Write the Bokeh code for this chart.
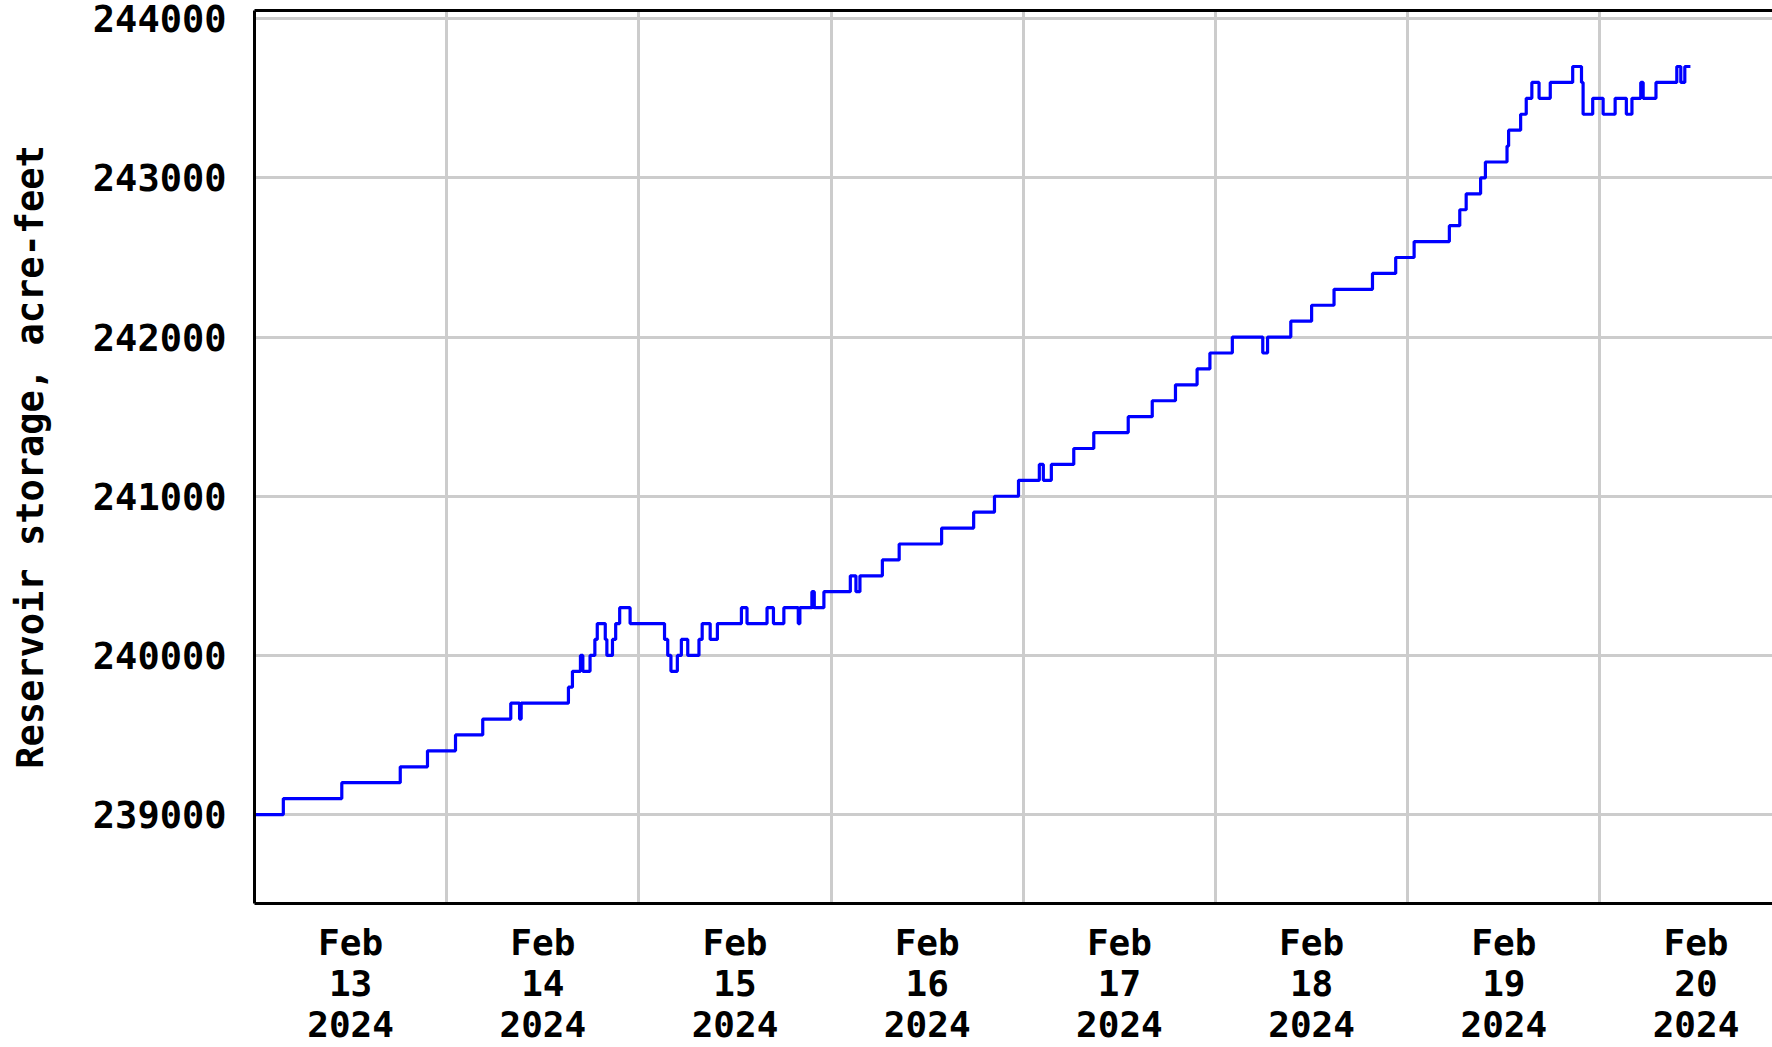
from bokeh.plotting import figure
from bokeh.models import Range1d, FixedTicker, LinearAxis, NumeralTickFormatter
from bokeh.embed import file_html
from bokeh.resources import INLINE

# ---- data: hours since 2024-02-13 00:00 at which the reading changes, and storage (acre-feet)
START = "2024-02-13 00:00"
hours = [0.0, 3.6, 10.9, 18.2, 21.6, 25.1, 28.5, 32.0, 33.1, 33.3,
         39.2, 39.7, 40.7, 41.0, 41.9, 42.5, 42.8, 43.8, 44.0, 44.7,
         45.1, 45.6, 46.9, 51.2, 51.6, 52.0, 52.8, 53.3, 54.1, 55.5,
         55.9, 56.9, 57.8, 60.8, 61.5, 64.0, 64.8, 66.1, 67.9, 68.1,
         69.6, 69.9, 71.1, 74.4, 75.1, 75.6, 78.4, 80.5, 85.8, 89.8,
         92.4, 95.4, 98.0, 98.5, 99.5, 102.3, 104.8, 109.1, 112.1, 115.0,
         117.7, 119.3, 122.1, 125.9, 126.5, 129.4, 132.0, 134.8, 139.6, 142.5,
         144.8, 149.2, 150.5, 151.3, 153.1, 153.7, 156.4, 156.6, 158.1, 158.8,
         159.5, 160.4, 161.8, 164.6, 165.7, 165.9, 167.1, 168.4, 169.9, 171.3,
         172.0, 173.1, 173.4, 175.0, 177.6, 178.1, 178.6, 179.3]
storage = [239000, 239100, 239200, 239300, 239400, 239500, 239600, 239700, 239600, 239700,
           239800, 239900, 240000, 239900, 240000, 240100, 240200, 240100, 240000, 240100,
           240200, 240300, 240200, 240100, 240000, 239900, 240000, 240100, 240000, 240100,
           240200, 240100, 240200, 240300, 240200, 240300, 240200, 240300, 240200, 240300,
           240400, 240300, 240400, 240500, 240400, 240500, 240600, 240700, 240800, 240900,
           241000, 241100, 241200, 241100, 241200, 241300, 241400, 241500, 241600, 241700,
           241800, 241900, 242000, 241900, 242000, 242100, 242200, 242300, 242400, 242500,
           242600, 242700, 242800, 242900, 243000, 243100, 243200, 243300, 243400, 243500,
           243600, 243500, 243600, 243700, 243600, 243400, 243500, 243400, 243500, 243400,
           243500, 243600, 243500, 243600, 243700, 243600, 243700, 243700]

month = "Feb"
days = [13, 14, 15, 16, 17, 18, 19, 20]
year = 2024
y_ticks = [239000, 240000, 241000, 242000, 243000, 244000]
y_title = "Reservoir storage, acre-feet"

FONT = "DejaVu Sans Mono"
FS = "37px"

p = figure(width=1772, height=1047,
           x_range=Range1d(0, 189.55), y_range=Range1d(238441, 244052),
           output_backend="svg", toolbar_location=None,
           min_border_left=254, min_border_right=0, min_border_top=10,
           min_border_bottom=144)
p.outline_line_color = None
p.background_fill_color = "white"
p.border_fill_color = "white"

p.step(hours, storage, mode="after", line_color="#0000ff", line_width=3.2)

# x axis: labels at noon of each day, grid at midnight
noon = [24 * i + 12 for i in range(len(days))]
p.xaxis.ticker = FixedTicker(ticks=noon)
p.xaxis.major_label_overrides = {t: f"{month}\n{d}\n{year}" for t, d in zip(noon, days)}
p.xgrid.ticker = FixedTicker(ticks=[24 * i for i in range(1, len(days))])

p.yaxis.ticker = FixedTicker(ticks=y_ticks)
p.yaxis.formatter = NumeralTickFormatter(format="0")
p.yaxis.axis_label = y_title

for ax in (p.xaxis[0], p.yaxis[0]):
    ax.axis_line_color = "black"
    ax.axis_line_width = 3
    ax.major_tick_line_color = None
    ax.minor_tick_line_color = None
    ax.major_label_text_font = FONT
    ax.major_label_text_font_size = FS
    ax.major_label_text_font_style = "bold"
    ax.major_label_text_color = "black"
p.xaxis.major_label_text_font_size = "36px"
p.xaxis.major_label_text_line_height = 1.0
p.yaxis.major_label_standoff = 22
p.xaxis.major_label_standoff = 12
p.yaxis.axis_label_text_font = FONT
p.yaxis.axis_label_text_font_size = FS
p.yaxis.axis_label_text_font_style = "bold"
p.yaxis.axis_label_text_color = "black"
p.yaxis.axis_label_standoff = 38

for g in (p.xgrid[0], p.ygrid[0]):
    g.grid_line_color = "#cccccc"
    g.grid_line_width = 3

# top border of the frame
top = LinearAxis(ticker=FixedTicker(ticks=[]), axis_line_color="black", axis_line_width=3,
                 major_tick_line_color=None, minor_tick_line_color=None,
                 major_label_text_font_size="0px", major_label_standoff=0,
                 major_tick_out=0, minor_tick_out=0)
p.add_layout(top, "above")

open("out.html", "w").write(file_html(p, INLINE))
